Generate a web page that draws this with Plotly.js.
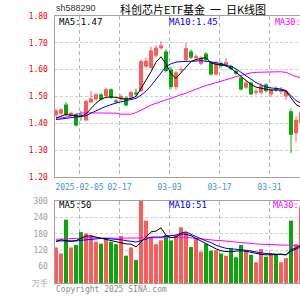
<!DOCTYPE html>
<html><head><meta charset="utf-8">
<script src="https://cdn.plot.ly/plotly-3.0.1.min.js"></script>
<style>html,body{margin:0;padding:0;background:#fff}#chart{width:300px;height:300px}</style>
</head><body><div id="chart"></div>
<script>
const dates = ['01-21','01-22','01-23','01-24','01-27','02-05','02-06','02-07','02-10','02-11',
  '02-12','02-13','02-14','02-17','02-18','02-19','02-20','02-21','02-24','02-25',
  '02-26','02-27','02-28','03-03','03-04','03-05','03-06','03-07','03-10','03-11',
  '03-12','03-13','03-14','03-17','03-18','03-19','03-20','03-21','03-24','03-25',
  '03-26','03-27','03-28','03-31','04-01','04-02','04-03','04-07','04-08','04-09'];
const openP = [1.430,1.436,1.470,1.429,1.435,1.432,1.411,1.478,1.489,1.508,
  1.502,1.527,1.485,1.489,1.496,1.496,1.515,1.520,1.612,1.607,
  1.652,1.680,1.668,1.600,1.535,1.598,1.635,1.668,1.643,1.622,
  1.660,1.628,1.582,1.625,1.618,1.614,1.595,1.570,1.533,1.552,
  1.514,1.514,1.545,1.508,1.529,1.517,1.500,1.445,1.363,1.400];
const highP = [1.454,1.456,1.479,1.443,1.438,1.447,1.489,1.521,1.513,1.512,
  1.532,1.530,1.492,1.508,1.500,1.520,1.530,1.638,1.645,1.685,
  1.690,1.705,1.675,1.610,1.595,1.612,1.700,1.675,1.657,1.650,
  1.665,1.632,1.632,1.630,1.643,1.618,1.600,1.575,1.560,1.556,
  1.530,1.550,1.550,1.530,1.538,1.535,1.525,1.455,1.426,1.450];
const lowP = [1.423,1.432,1.428,1.425,1.388,1.410,1.408,1.475,1.485,1.485,
  1.498,1.492,1.472,1.484,1.463,1.492,1.500,1.515,1.605,1.603,
  1.645,1.675,1.590,1.528,1.525,1.590,1.630,1.640,1.632,1.617,
  1.630,1.578,1.578,1.608,1.612,1.598,1.580,1.522,1.528,1.505,
  1.505,1.508,1.515,1.500,1.518,1.508,1.488,1.289,1.331,1.390];
const closeP = [1.448,1.452,1.432,1.439,1.392,1.428,1.483,1.492,1.508,1.489,
  1.527,1.496,1.480,1.502,1.467,1.517,1.508,1.632,1.633,1.672,
  1.682,1.690,1.595,1.535,1.590,1.602,1.680,1.645,1.650,1.645,
  1.636,1.582,1.626,1.613,1.628,1.602,1.585,1.526,1.552,1.508,
  1.520,1.540,1.520,1.526,1.524,1.522,1.520,1.357,1.413,1.440];
const volume = [130,108,232,130,139,186,181,175,151,144,
  160,151,142,172,100,130,84,300,228,168,
  142,156,175,156,175,204,187,132,163,115,
  144,118,120,108,100,127,94,139,118,103,
  76,124,96,108,106,76,91,228,142,280];
const ma5 = [1.420,1.428,1.433,1.430,1.427,1.426,1.435,1.455,1.475,1.490,
  1.497,1.498,1.497,1.492,1.490,1.493,1.500,1.530,1.560,1.592,
  1.628,1.648,1.622,1.585,1.568,1.588,1.608,1.630,1.638,1.642,
  1.645,1.625,1.620,1.618,1.614,1.605,1.590,1.575,1.558,1.545,
  1.535,1.530,1.527,1.524,1.524,1.524,1.520,1.495,1.470,1.460];
const ma10 = [1.414,1.416,1.418,1.420,1.423,1.425,1.428,1.438,1.448,1.455,
  1.463,1.470,1.476,1.480,1.484,1.488,1.493,1.505,1.520,1.540,
  1.565,1.590,1.612,1.622,1.628,1.630,1.630,1.630,1.632,1.634,
  1.632,1.628,1.626,1.622,1.617,1.612,1.603,1.590,1.578,1.563,
  1.552,1.543,1.535,1.532,1.530,1.528,1.522,1.505,1.485,1.475];
const ma30 = [1.420,1.420,1.423,1.428,1.433,1.438,1.439,1.439,1.439,1.439,
  1.439,1.439,1.438,1.434,1.433,1.434,1.440,1.448,1.458,1.468,
  1.474,1.480,1.487,1.493,1.500,1.507,1.512,1.520,1.528,1.535,
  1.541,1.546,1.551,1.556,1.562,1.568,1.574,1.579,1.584,1.588,
  1.590,1.591,1.592,1.592,1.592,1.592,1.590,1.582,1.574,1.570];
const vma5 = [151,158,155,152,155,165,172,172,168,162,
  158,156,150,146,143,142,132,150,170,187,
  190,202,174,166,168,180,178,173,163,153,
  143,133,125,118,115,115,117,118,116,112,
  107,105,103,103,104,106,103,122,128,140];
const vma10 = [154,154,154,153,154,156,158,160,162,163,
  163,162,160,158,155,152,150,155,160,168,
  168,168,172,174,175,182,187,178,170,160,
  154,148,138,132,127,125,124,122,120,117,
  113,110,108,107,106,104,103,116,125,132];
const vma30 = [160,161,162,163,164,165,166,166,165,164,
  164,164,164,164,164,164,164,165,166,166,
  166,166,166,166,167,168,168,165,163,160,
  159,158,156,155,153,151,149,147,145,144,
  143,142,142,141,140,139,139,138,136,135];
const tickDates = ['02-05','02-17','03-03','03-17','03-31'];
const tickLabels = ['2025-02-05','02-17','03-03','03-17','03-31'];
const priceTicks = [1.2,1.3,1.4,1.5,1.6,1.7,1.8];
const volTicks = [0,60,120,180,240,300];
const volTickText = ['万手','60','120','180','240','300'];

const RED = '#ff5b5b', GREEN = '#0aa60a';
const idx = dates.map((d,i)=>i);
const up = idx.filter(i=>closeP[i] >= openP[i]);
const dn = idx.filter(i=>closeP[i] < openP[i]);
const minBody = 0.003;

function wick(list, color){
  return {type:'bar', x:list, base:list.map(i=>lowP[i]), y:list.map(i=>highP[i]-lowP[i]),
    width:0.2, marker:{color:color, line:{width:0}}, xaxis:'x', yaxis:'y', hoverinfo:'skip'};
}
function body(list, color){
  return {type:'bar', x:list, base:list.map(i=>Math.min(openP[i],closeP[i])),
    y:list.map(i=>Math.max(Math.abs(closeP[i]-openP[i]),minBody)),
    width:0.8, marker:{color:color, line:{width:0}}, xaxis:'x', yaxis:'y', hoverinfo:'skip'};
}
function vol(list, color){
  return {type:'bar', x:list, y:list.map(i=>volume[i]), width:0.8,
    marker:{color:color, line:{width:0}}, xaxis:'x2', yaxis:'y2', hoverinfo:'skip'};
}
function line(y, color, xa, ya){
  return {type:'scatter', mode:'lines', x:idx, y:y, line:{color:color, width:1},
    xaxis:xa, yaxis:ya, hoverinfo:'skip'};
}
const data = [
  wick(up,RED), wick(dn,GREEN), body(up,RED), body(dn,GREEN),
  line(ma30,'#ff00ff','x','y'), line(ma10,'#0000ff','x','y'), line(ma5,'#000000','x','y'),
  vol(up,RED), vol(dn,GREEN),
  line(vma30,'#ff00ff','x2','y2'), line(vma10,'#0000ff','x2','y2'), line(vma5,'#000000','x2','y2')
];

const L=55, T=16, B=283, W=245, H=267;
const px = x => (x-L)/W;
const py = y => (B-y)/H;
const mono = 'DejaVu Sans Mono, monospace';
const tickPos = tickDates.map(d=>dates.indexOf(d)-0.3);

function ann(text, x, y, color, size, family, yanchor){
  return {text:text, x:px(x), y:py(y), xref:'paper', yref:'paper', xanchor:'left', yanchor:yanchor||'middle',
    showarrow:false, font:{family:family||mono, size:size||9, color:color}};
}

const layout = {
  width:300, height:300, margin:{l:L, r:0, t:T, b:300-B},
  paper_bgcolor:'#fff', plot_bgcolor:'#fff', showlegend:false, barmode:'overlay',
  title:{text:'科创芯片ETF基金\u00a0\u00a0一\u00a0\u00a0日K线图', x:193/300, xanchor:'center', xref:'container',
    y:1-10/300, yanchor:'middle', yref:'container',
    font:{family:'Noto Sans CJK SC', size:11, color:'#000'}},
  xaxis:{domain:[0,1], anchor:'y', range:[-0.2,48.8], tickvals:tickPos, ticktext:tickLabels,
    tickfont:{family:mono, size:8, color:'#3a96dc'}, ticks:'', ticklabelstandoff:2,
    showgrid:true, gridcolor:'#b4b4b4', griddash:'4px,3px', gridwidth:1,
    showline:true, mirror:true, linecolor:'#a0a0a0', linewidth:1, zeroline:false, fixedrange:true},
  xaxis2:{domain:[0,1], anchor:'y2', matches:'x', range:[-0.2,48.8], tickvals:tickPos, showticklabels:false, ticks:'',
    showgrid:true, gridcolor:'#b4b4b4', griddash:'4px,3px', gridwidth:1,
    showline:true, mirror:true, linecolor:'#a0a0a0', linewidth:1, zeroline:false},
  yaxis:{domain:[(B-177)/H,1], anchor:'x', range:[1.2,1.8], tickvals:priceTicks,
    ticktext:priceTicks.map(v=>v.toFixed(2)), tickfont:{family:mono, size:8, color:'#ff0000'},
    ticks:'', ticklabelstandoff:4, showgrid:true, gridcolor:'#d0d0d0', griddash:'3px,2px',
    showline:true, linecolor:'#a0a0a0', linewidth:1.5, zeroline:false},
  yaxis2:{domain:[0,(B-201)/H], anchor:'x2', range:[0,300], tickvals:volTicks, ticktext:volTickText,
    tickfont:{family:mono, size:8, color:'#a0a0a0'}, ticks:'', ticklabelstandoff:4,
    showgrid:true, gridcolor:'#d0d0d0', griddash:'3px,2px',
    showline:true, linecolor:'#a0a0a0', linewidth:1.5, zeroline:false},
  annotations:[
    ann('sh588290', 54, 15, '#333', 9, 'Liberation Sans, Arial, sans-serif', 'bottom'),
    ann('MA5:1.47', 57, 22.5, '#000'),
    ann('MA10:1.45', 167, 22.5, '#0000ff'),
    ann('MA30:', 273, 22.5, '#ff00ff', 8.5),
    ann('MA5:50', 57, 205, '#000'),
    ann('MA10:51', 167, 205, '#0000ff'),
    ann('MA30:', 271, 205, '#ff00ff', 8.5),
    ann('Copyright 2025 SINA.com', 54, 289, '#8c8c8c', 8)
  ]
};
Plotly.newPlot('chart', data, layout, {staticPlot:true, displayModeBar:false});
</script></body></html>
